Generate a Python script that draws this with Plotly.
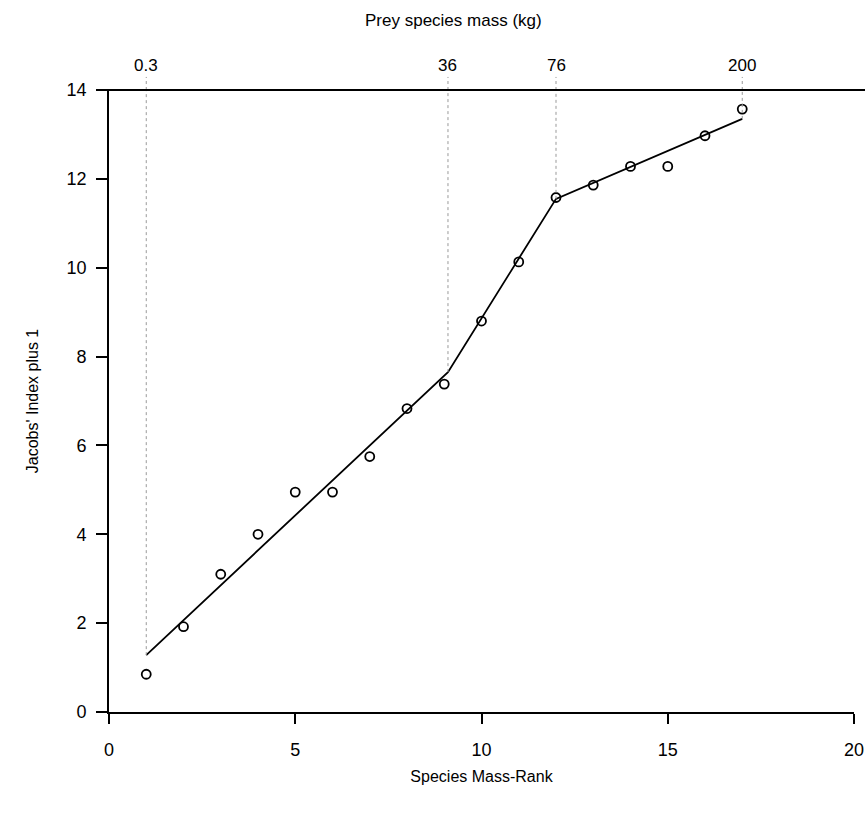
import plotly.graph_objects as go

# Data
rank = list(range(1, 18))
jacobs = [0.85, 1.92, 3.1, 4.0, 4.95, 4.95, 5.75, 6.83, 7.38, 8.8, 10.13, 11.58,
          11.86, 12.28, 12.28, 12.97, 13.57]

break_x = [1, 9.1, 12, 17]
break_y = [1.28, 7.65, 11.55, 13.35]
break_labels = ["0.3", "36", "76", "200"]

x_ticks = [0, 5, 10, 15, 20]
y_ticks = [0, 2, 4, 6, 8, 10, 12, 14]

FONT = "Liberation Sans, Arial, sans-serif"

fig = go.Figure()

# fitted piecewise line
fig.add_trace(go.Scatter(x=break_x, y=break_y, mode="lines",
                         line=dict(color="black", width=1.8),
                         hoverinfo="skip", showlegend=False))

# observed points
fig.add_trace(go.Scatter(x=rank, y=jacobs, mode="markers",
                         marker=dict(symbol="circle-open", size=9,
                                     color="black", line=dict(width=1.8)),
                         showlegend=False, cliponaxis=False))

shapes = []
annotations = []
for bx, by, lab in zip(break_x, break_y, break_labels):
    shapes.append(dict(type="line", xref="x", yref="y", x0=bx, x1=bx, y0=by, y1=14,
                       line=dict(color="#999999", width=1, dash="dot")))
    shapes.append(dict(type="line", xref="x", yref="paper", x0=bx, x1=bx, y0=1, y1=1.021,
                       line=dict(color="#999999", width=1, dash="dot")))
    annotations.append(dict(x=bx, y=1, xref="x", yref="paper", text=lab,
                            showarrow=False, yanchor="bottom", yshift=13,
                            font=dict(size=17, color="black", family=FONT)))

# top border line
shapes.append(dict(type="line", xref="paper", yref="paper", x0=-0.016, x1=1.02,
                   y0=1, y1=1, line=dict(color="black", width=1.8)))

annotations.append(dict(x=0.463, y=1, xref="paper", yref="paper",
                        text="Prey species mass (kg)", showarrow=False,
                        yanchor="bottom", yshift=58,
                        font=dict(size=17, color="black", family=FONT)))

fig.update_layout(
    width=865, height=816,
    margin=dict(l=109, r=11, t=90, b=104),
    paper_bgcolor="white", plot_bgcolor="white",
    font=dict(family=FONT, size=17, color="black"),
    shapes=shapes, annotations=annotations,
    xaxis=dict(range=[0, 20], tickvals=x_ticks, showgrid=False, zeroline=False,
               showline=True, linecolor="black", linewidth=1.8, automargin=False,
               ticks="outside", ticklen=10, tickwidth=1.8, tickcolor="black",
               tickfont=dict(size=18), ticklabelstandoff=10,
               title=dict(text="Species Mass-Rank", font=dict(size=16), standoff=12)),
    yaxis=dict(range=[0, 14], tickvals=y_ticks, showgrid=False, zeroline=False,
               showline=True, linecolor="black", linewidth=1.8, automargin=False,
               ticks="outside", ticklen=11, tickwidth=1.8, tickcolor="black",
               tickfont=dict(size=18), ticklabelstandoff=6,
               title=dict(text="Jacobs' Index plus 1", font=dict(size=16), standoff=24)),
)

fig.write_html("out.html")
